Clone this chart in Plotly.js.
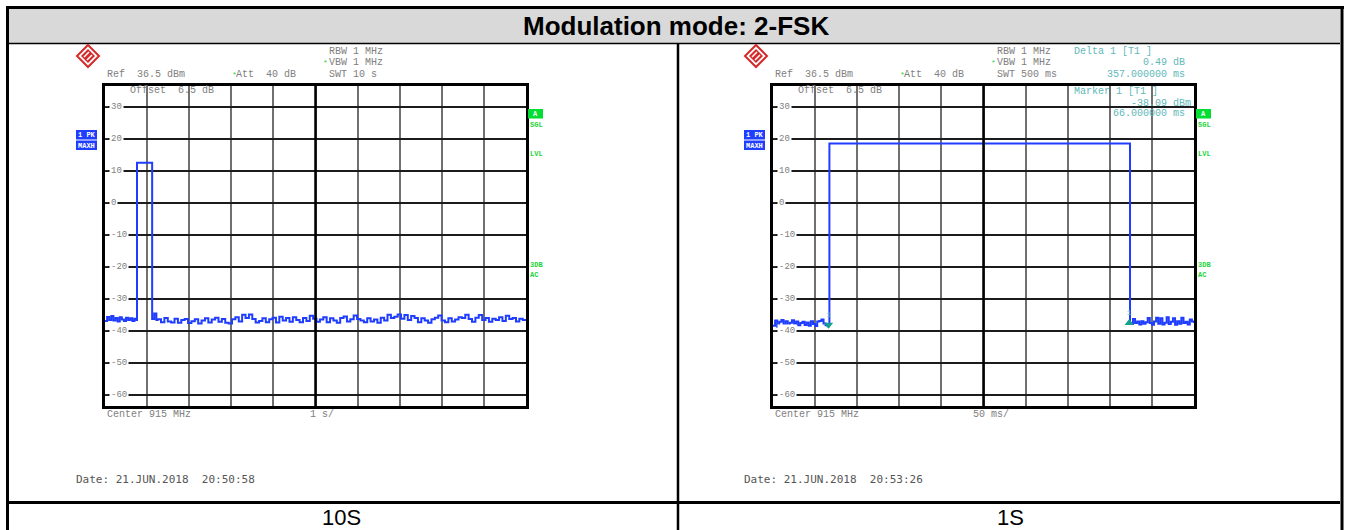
<!DOCTYPE html>
<html>
<head>
<meta charset="utf-8">
<script src="https://cdn.plot.ly/plotly-3.0.1.min.js"></script>
<style>
  html, body { margin: 0; padding: 0; background: #fff; }
  #chart { width: 1349px; height: 530px; }
</style>
</head>
<body>
<div id="chart"></div>
<script>
// page size (px)
const W = 1349, H = 530;

// ------------------ data ------------------
const title = 'Modulation mode: 2-FSK';
const captions = ['10S', '1S'];
const dbTicks = [30, 20, 10, 0, -10, -20, -30, -40, -50, -60];
const refLevel = 36.5;     // dBm, top of screen
const bottomLevel = -63.5; // dBm, bottom of screen

// left: 10 s sweep, 1 s/div
const leftSpan = 10;
const leftPreStart = 0, leftPreStep = 0.05;
const leftPre = [-36.9, -35.7, -36.6, -35.4, -36.8, -36.0, -37.1, -35.8, -36.5, -36.9, -35.9, -36.6, -36.1, -36.9, -36.2, -36.6];
const leftPulseT = [0.76, 1.12, 1.17, 1.22];
const leftPulseDbm = [12.5, -36.3, -34.6, -36.6];
const leftPostStart = 1.25, leftPostStep = 0.0803;
const leftPost = [
  -36.4, -37.3, -36.0, -37.1, -37.4, -36.2, -37.5, -36.6, -36.3, -37.6,
  -37.0, -36.4, -37.7, -36.8, -36.1, -37.4, -36.5, -35.9, -37.2, -36.3,
  -37.5, -37.7, -36.4, -35.8, -37.1, -35.0, -36.0, -34.9, -36.3, -37.4,
  -36.9, -36.1, -37.3, -36.4, -35.9, -37.4, -35.6, -36.8, -36.0, -37.2,
  -35.8, -36.6, -37.3, -36.0, -36.9, -35.3, -36.2, -37.2, -36.5, -35.8,
  -37.3, -36.1, -36.8, -37.5, -36.0, -35.5, -37.1, -36.4, -35.2, -36.3,
  -36.8, -37.3, -36.1, -37.1, -36.5, -37.5, -35.9, -36.8, -35.0, -36.0,
  -35.6, -34.9, -36.2, -35.1, -36.6, -35.4, -36.0, -37.3, -36.1, -36.8,
  -37.5, -36.4, -35.9, -35.2, -36.8, -37.3, -36.1, -37.1, -36.5, -35.8,
  -36.0, -35.0, -36.3, -37.2, -35.9, -35.1, -36.6, -36.0, -37.2, -36.2,
  -36.6, -35.8, -36.9, -35.3, -36.3, -36.0, -37.1, -36.2, -36.6, -36.9
];

// right: 500 ms sweep, 50 ms/div
const rightSpan = 500;
const rightPreStart = 0, rightPreStep = 2.5;
const rightPre = [-38.4, -36.8, -38.7, -37.2, -36.6, -38.2, -37.0, -38.5, -37.5, -36.7, -37.8, -37.1, -38.3, -37.6,
  -37.2, -38.2, -37.4, -38.4, -37.0, -37.9, -38.5, -37.1, -36.9, -36.5, -37.7, -38.3, -38.6];
const rightPulseT = [66, 67, 424];
const rightPulseDbm = [-38.09, 18.5, -37.6];
const rightPostStart = 425, rightPostStep = 2.5;
const rightPost = [-37.9, -36.3, -37.6, -37.1, -38.0, -37.0, -37.8, -37.3, -36.0, -37.6, -38.1, -37.1, -35.9, -37.8, -36.1,
  -38.0, -37.5, -35.8, -37.9, -37.2, -36.1, -38.1, -37.0, -37.8, -35.9, -37.6, -37.2, -38.0, -36.5, -37.1, -37.6];
const markerT = [66], markerDbm = [-38.09];
const deltaT = [423], deltaDbm = [-37.6];

// ------------------ helpers ------------------
const px = x => x / W;
const py = y => 1 - y / H;
const sweep = (start, step, vals) => vals.map((v, i) => start + i * step);

const GRAY = '#808080', TEAL = '#5fb8b8', GREEN = '#19d43c', BLUE = '#1f3dff';
const MONO = 'Liberation Mono, Courier New, monospace';

const annotations = [];
const shapes = [];

function txt(x, y, s, o) {
  o = o || {};
  annotations.push({
    xref: 'paper', yref: 'paper', x: px(x), y: py(y), text: s, showarrow: false,
    xanchor: o.anchor || 'left', yanchor: 'middle', borderpad: 0,
    bgcolor: o.bg || 'rgba(0,0,0,0)',
    font: { family: o.family || MONO, size: o.size || 10, color: o.color || GRAY }
  });
}
function rect(x0, y0, x1, y1, fill, layer) {
  shapes.push({ type: 'rect', xref: 'paper', yref: 'paper', x0: px(x0), x1: px(x1), y0: py(y0), y1: py(y1),
    fillcolor: fill, line: { width: 0 }, layer: layer || 'below' });
}
function hline(x0, x1, y, w, c) {
  shapes.push({ type: 'line', xref: 'paper', yref: 'paper', x0: px(x0), x1: px(x1), y0: py(y), y1: py(y),
    line: { width: w, color: c || '#000' }, layer: 'above' });
}
function vline(x, y0, y1, w, c) {
  shapes.push({ type: 'line', xref: 'paper', yref: 'paper', x0: px(x), x1: px(x), y0: py(y0), y1: py(y1),
    line: { width: w, color: c || '#000' }, layer: 'above' });
}

// ------------------ table frame ------------------
rect(9, 9, 1340, 43, '#d9d9d9');
hline(6, 1344, 7.5, 3);
vline(7.5, 6, 530, 3);
vline(1342, 6, 530, 3);
hline(9, 1340, 43.5, 1.5);
vline(678, 43, 530, 2.5);
hline(9, 1340, 502.5, 3);
txt(676, 26, '<b>' + title + '</b>', { anchor: 'center', family: 'Liberation Sans, Arial, sans-serif', size: 26, color: '#000' });
txt(341, 517, captions[0], { anchor: 'center', family: 'Liberation Sans, Arial, sans-serif', size: 22, color: '#000' });
txt(1010, 517, captions[1], { anchor: 'center', family: 'Liberation Sans, Arial, sans-serif', size: 22, color: '#000' });

// ------------------ one analyzer screen ------------------
function screen(n, ox, span, info) {
  const xa = n === 1 ? 'xaxis' : 'xaxis' + n;
  const ya = n === 1 ? 'yaxis' : 'yaxis' + n;
  const yr = n === 1 ? 'y' : 'y' + n;
  const xr = n === 1 ? 'x' : 'x' + n;
  const divs = [];
  for (let i = 1; i < 10; i++) divs.push(span * i / 10);

  const axes = {};
  axes[xa] = {
    domain: [px(105 + ox), px(526 + ox)], range: [0, span], anchor: yr,
    tickvals: divs, showticklabels: false, ticks: '',
    showgrid: true, gridcolor: '#707070', gridwidth: 2, zeroline: false,
    showline: true, mirror: true, linecolor: '#000', linewidth: 3, fixedrange: true
  };
  axes[ya] = {
    domain: [py(406), py(86)], range: [bottomLevel, refLevel], anchor: xr,
    tickvals: dbTicks, showticklabels: false, ticks: 'inside', ticklen: 3, tickcolor: '#333',
    showgrid: true, gridcolor: '#1c1c1c', gridwidth: 1.5, zeroline: false,
    showline: true, mirror: true, linecolor: '#000', linewidth: 3, fixedrange: true
  };

  // thick centre division
  shapes.push({ type: 'line', xref: xr, yref: yr + ' domain', x0: span / 2, x1: span / 2, y0: 0, y1: 1,
    line: { width: 2.5, color: '#000' }, layer: 'above' });

  // dB labels sit on the grid lines, inside the screen
  dbTicks.forEach(v => {
    annotations.push({ xref: 'paper', yref: yr, x: px(109 + ox), y: v, text: String(v), showarrow: false,
      xanchor: 'left', yanchor: 'middle', bgcolor: '#fff', borderpad: 1,
      font: { family: MONO, size: 9, color: GRAY } });
  });

  // R&S logo: red-rimmed diamond
  const cx = 88 + ox, cy = 56, r = 11;
  shapes.push({ type: 'path', xref: 'paper', yref: 'paper', layer: 'above',
    path: `M ${px(cx)} ${py(cy - r)} L ${px(cx + r)} ${py(cy)} L ${px(cx)} ${py(cy + r)} L ${px(cx - r)} ${py(cy)} Z`,
    fillcolor: '#fff', line: { color: '#d42a2a', width: 2 } });
  shapes.push({ type: 'path', xref: 'paper', yref: 'paper', layer: 'above',
    path: `M ${px(cx)} ${py(cy - 7)} L ${px(cx + 7)} ${py(cy)} L ${px(cx)} ${py(cy + 7)} L ${px(cx - 7)} ${py(cy)} Z`,
    fillcolor: '#d42a2a', line: { width: 0 } });
  shapes.push({ type: 'path', xref: 'paper', yref: 'paper', layer: 'above',
    path: `M ${px(cx - 4)} ${py(cy + 1)} L ${px(cx + 1)} ${py(cy - 4)} M ${px(cx - 1)} ${py(cy + 4)} L ${px(cx + 4)} ${py(cy - 1)}`,
    line: { color: '#fff', width: 1.5 } });

  // header readouts
  txt(328 + ox, 52, 'RBW 1 MHz');
  txt(322 + ox, 63, '*', { color: GREEN, size: 8 });
  txt(328 + ox, 63, 'VBW 1 MHz');
  txt(106 + ox, 75, 'Ref  36.5 dBm');
  txt(231 + ox, 75, '*', { color: GREEN, size: 8 });
  txt(235 + ox, 75, 'Att  40 dB');
  txt(328 + ox, 75, info.swt);
  txt(129 + ox, 91, 'Offset  6.5 dB');
  txt(106 + ox, 414, 'Center 915 MHz');
  txt(info.divX + ox, 414, info.div);
  txt(75 + ox, 479, info.date, { family: 'DejaVu Sans Mono, monospace', size: 11, color: '#555' });

  // trace indicator
  rect(76 + ox, 130, 97 + ox, 139.5, BLUE, 'above');
  rect(76 + ox, 140.5, 97 + ox, 150, BLUE, 'above');
  txt(77 + ox, 135, '<b>1 PK</b>', { size: 7, color: '#fff' });
  txt(77 + ox, 145.5, '<b>MAXH</b>', { size: 7, color: '#fff' });

  // right side status
  rect(528 + ox, 109, 543 + ox, 118.5, '#00dd33', 'above');
  txt(535.5 + ox, 113.8, '<b>A</b>', { anchor: 'center', size: 7, color: '#fff' });
  txt(529 + ox, 125, '<b>SGL</b>', { size: 7, color: GREEN });
  txt(529 + ox, 154, '<b>LVL</b>', { size: 7, color: GREEN });
  txt(529 + ox, 265, '<b>3DB</b>', { size: 7, color: GREEN });
  txt(529 + ox, 275, '<b>AC</b>', { size: 7, color: GREEN });

  return axes;
}

const layout = {
  width: W, height: H, margin: { l: 0, r: 0, t: 0, b: 0 },
  paper_bgcolor: '#fff', plot_bgcolor: '#fff', showlegend: false,
  annotations: annotations, shapes: shapes
};
Object.assign(layout, screen(1, 0, leftSpan, { swt: 'SWT 10 s', div: '1 s/', divX: 309, date: 'Date: 21.JUN.2018  20:50:58' }));
Object.assign(layout, screen(2, 668, rightSpan, { swt: 'SWT 500 ms', div: '50 ms/', divX: 304, date: 'Date: 21.JUN.2018  20:53:26' }));

// marker readouts (right screen)
txt(1073, 52, 'Delta 1 [T1 ]', { color: TEAL });
txt(1186, 63, '0.49 dB', { anchor: 'right', color: TEAL });
txt(1186, 75, '357.000000 ms', { anchor: 'right', color: TEAL });
txt(1073, 92, 'Marker 1 [T1 ]', { color: TEAL });
txt(1192, 103, '-38.09 dBm', { anchor: 'right', color: TEAL });
txt(1186, 114, '66.000000 ms', { anchor: 'right', color: TEAL });

// ------------------ traces ------------------
const leftX = sweep(leftPreStart, leftPreStep, leftPre).concat(leftPulseT, sweep(leftPostStart, leftPostStep, leftPost));
const leftY = leftPre.concat(leftPulseDbm, leftPost);
const rightX = sweep(rightPreStart, rightPreStep, rightPre).concat(rightPulseT, sweep(rightPostStart, rightPostStep, rightPost));
const rightY = rightPre.concat(rightPulseDbm, rightPost);

const data = [
  { x: leftX, y: leftY, xaxis: 'x', yaxis: 'y', mode: 'lines', line: { color: BLUE, width: 2, shape: 'hv' }, hoverinfo: 'skip' },
  { x: rightX, y: rightY, xaxis: 'x2', yaxis: 'y2', mode: 'lines', line: { color: BLUE, width: 2, shape: 'hv' }, hoverinfo: 'skip' },
  { x: markerT, y: markerDbm, xaxis: 'x2', yaxis: 'y2', mode: 'markers+text', text: ['1'], textposition: 'top center',
    textfont: { family: MONO, size: 8, color: TEAL }, marker: { symbol: 'triangle-down', size: 8, color: '#16a08f' }, hoverinfo: 'skip' },
  { x: deltaT, y: deltaDbm, xaxis: 'x2', yaxis: 'y2', mode: 'markers+text', text: ['1'], textposition: 'top center',
    textfont: { family: MONO, size: 8, color: TEAL }, marker: { symbol: 'triangle-up', size: 8, color: '#16a08f' }, hoverinfo: 'skip' }
];

Plotly.newPlot('chart', data, layout, { staticPlot: true });
</script>
</body>
</html>
